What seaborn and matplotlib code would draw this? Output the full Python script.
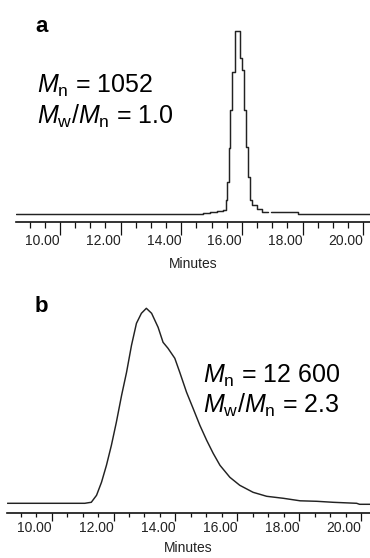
import numpy as np
import pandas as pd
import matplotlib
matplotlib.use("Agg")
import matplotlib.pyplot as plt
import seaborn as sns
from matplotlib.ticker import MultipleLocator

sns.set_theme(style="white")
plt.rcParams["font.family"] = ["Liberation Sans", "DejaVu Sans"]
plt.rcParams["text.color"] = "black"
plt.rcParams["mathtext.fontset"] = "custom"
plt.rcParams["mathtext.rm"] = "Liberation Sans"
plt.rcParams["mathtext.it"] = "Liberation Sans:italic"

# GPC trace (a): stepped detector signal, a small gap after the peak
a_time = [8.55, 14.72, 14.95, 15.17, 15.38, 15.46, 15.51, 15.56, 15.61, 15.66,
          15.77, 15.93, 16.00, 16.06, 16.13, 16.19, 16.26, 16.34, 16.49, 16.65,
          16.85, 16.97, 17.85, 20.22]
a_signal = [0, 1, 2, 3, 4, 14, 32, 66, 104, 142,
            183, 156, 144, 104, 67, 37, 14, 9, 5, 2,
            2, 2, 0, 0]
a_segment = [0] * 21 + [1] * 3

# GPC trace (b): broad distribution with a shoulder
b_time = [8.57, 11.07, 11.17, 11.28, 11.45, 11.61, 11.77, 11.93, 12.09, 12.26,
          12.42, 12.58, 12.74, 12.90, 13.06, 13.23, 13.44, 13.60, 13.76, 13.98,
          14.14, 14.36, 14.57, 14.79, 15.01, 15.22, 15.44, 15.76, 16.08, 16.51,
          16.95, 17.49, 18.03, 18.57, 19.10, 19.86, 19.95, 20.29]
b_signal = [0, 0, 0.5, 1, 8, 21, 38, 58, 81, 108,
            131, 158, 180, 190, 195, 190, 176, 161, 155, 145,
            131, 111, 95, 78, 63, 50, 38, 26, 18, 11,
            7, 5, 2.5, 2, 1, 0, -1, -1]

tick_pos = [10, 12, 14, 16, 18, 20]
tick_labels = ["10.00", "12.00", "14.00", "16.00", "18.00", "20.00"]

df_a = pd.DataFrame({"time": a_time, "signal": a_signal, "seg": a_segment})
df_b = pd.DataFrame({"time": b_time, "signal": b_signal})

W, H = 370, 558
fig = plt.figure(figsize=(W / 100, H / 100), dpi=100)
ax_a = fig.add_axes([16 / W, (H - 221.7) / H, 1 - 16 / W, (221.7 - 20) / H])
ax_b = fig.add_axes([7.3 / W, (H - 512.7) / H, 1 - 7.3 / W, (512.7 - 300) / H])

line_col = "#222222"
sns.lineplot(data=df_a, x="time", y="signal", units="seg", estimator=None,
             drawstyle="steps-post", color=line_col, lw=1.05, ax=ax_a)
sns.lineplot(data=df_b, x="time", y="signal", estimator=None,
             color=line_col, lw=1.05, ax=ax_b)


def style_axis(ax, xlim, ylim, major_len, minor_len, labelpad):
    ax.set_xlim(*xlim)
    ax.set_ylim(*ylim)
    ax.patch.set_alpha(0)
    for s in ["top", "left", "right"]:
        ax.spines[s].set_visible(False)
    ax.spines["bottom"].set_linewidth(1.2)
    ax.spines["bottom"].set_color("#111111")
    ax.set_yticks([])
    ax.set_ylabel("")
    ax.set_xticks(tick_pos, labels=tick_labels, ha="right", fontsize=10, color="#222222")
    ax.xaxis.set_minor_locator(MultipleLocator(0.5))
    ax.tick_params(axis="x", which="major", bottom=True, direction="out",
                   length=major_len, width=0.9, color="#111111", pad=0)
    ax.tick_params(axis="x", which="minor", bottom=True, direction="out",
                   length=minor_len, width=0.9, color="#111111")
    ax.set_xlabel("Minutes", fontsize=10, color="#222222", labelpad=labelpad)


style_axis(ax_a, (8.55, 20.22), (-7.7, 194), 9, 4.5, 6)
style_axis(ax_b, (8.565, 20.29), (-9.4, 203.3), 6, 3, 4)

# panel letters and molecular weight annotations
fig.text(35 / W, 1 - 26 / H, "a", fontsize=16, fontweight="bold", va="center")
fig.text(37 / W, 1 - 93 / H, r"$M_\mathrm{n}$ = 1052", fontsize=18, va="baseline")
fig.text(37 / W, 1 - 124 / H, r"$M_\mathrm{w}/M_\mathrm{n}$ = 1.0", fontsize=18, va="baseline")

fig.text(35 / W, 1 - 306 / H, "b", fontsize=16, fontweight="bold", va="center")
fig.text(203 / W, 1 - 383 / H, r"$M_\mathrm{n}$ = 12 600", fontsize=18, va="baseline")
fig.text(203 / W, 1 - 413 / H, r"$M_\mathrm{w}/M_\mathrm{n}$ = 2.3", fontsize=18, va="baseline")

fig.savefig("out.png", dpi=100)
